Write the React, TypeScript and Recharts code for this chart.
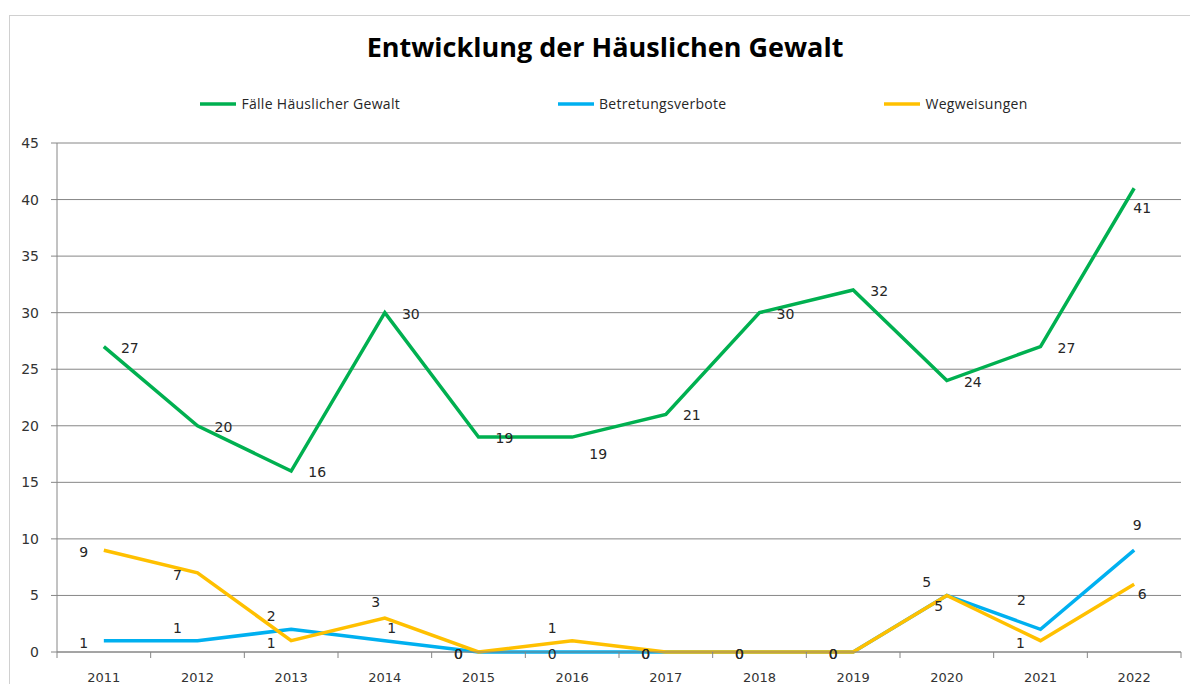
import React from 'react';
import { LineChart, Line, XAxis, YAxis, CartesianGrid, LabelList, Legend } from 'recharts';

const years = ['2011', '2012', '2013', '2014', '2015', '2016', '2017', '2018', '2019', '2020', '2021', '2022'];
const faelle = [27, 20, 16, 30, 19, 19, 21, 30, 32, 24, 27, 41];
const betretungsverbote = [1, 1, 2, 1, 0, 0, 0, 0, 0, 5, 2, 9];
const wegweisungen = [9, 7, 1, 3, 0, 1, 0, 0, 0, 5, 1, 6];
const yTicks = [0, 5, 10, 15, 20, 25, 30, 35, 40, 45];

const seriesNames = ['Fälle Häuslicher Gewalt', 'Betretungsverbote', 'Wegweisungen'];
const seriesColors = ['#00B050', '#00B0F0', '#FFC000'];

// label placement codes (where each data label sits relative to its point)
const faellePlacement = ['R', 'R', 'R', 'R', 'R', 'RB', 'R', 'R', 'R', 'R', 'R', 'B'];
const betretungPlacement = ['L', 'TL', 'TL', 'TR', 'L', 'L', 'L', 'L', 'L', 'TL', 'TLH', 'TT'];
const wegweisungPlacement = ['L', 'L', 'L', 'T', 'L', 'TL', 'L', 'L', 'L', 'BLS', 'L', 'BR'];

const placementOffsets: Record<string, [number, number]> = {
  R: [26, 1],
  RB: [26, 17],
  B: [8, 20],
  L: [-20, 2],
  TL: [-20, -13],
  T: [-9, -16],
  TR: [7, -13],
  TLH: [-19, -29],
  TT: [3, -25],
  BLS: [-8, 11],
  BR: [8, 10],
};

const data = years.map((year, i) => ({
  year,
  faelle: faelle[i],
  betretung: betretungsverbote[i],
  wegweisung: wegweisungen[i],
}));

const FONT = "'DejaVu Sans', Verdana, sans-serif";
const AXIS_GRAY = '#868686';

const makeLabel = (placements: string[]) => (props: any) => {
  const { x, y, value, index } = props;
  const off = placementOffsets[placements[index]] || [0, -15];
  return (
    <text
      x={x + off[0]}
      y={y + off[1]}
      textAnchor="middle"
      dominantBaseline="central"
      fontFamily={FONT}
      fontSize={14}
      fill="#262626"
    >
      {value}
    </text>
  );
};

const XTick = (props: any) => {
  const { x, y, payload, index, visibleTicksCount } = props;
  const w = typeof props.width === 'number' ? props.width : 1124;
  const count = visibleTicksCount || years.length;
  const band = w / count;
  return (
    <g>
      <line x1={x - band / 2} x2={x - band / 2} y1={y} y2={y + 6} stroke={AXIS_GRAY} />
      {index === count - 1 && (
        <line x1={x + band / 2} x2={x + band / 2} y1={y} y2={y + 6} stroke={AXIS_GRAY} />
      )}
      <text
        x={x}
        y={y + 25}
        textAnchor="middle"
        dominantBaseline="central"
        fontFamily={FONT}
        fontSize={13}
        fill="#333"
      >
        {payload.value}
      </text>
    </g>
  );
};

const LegendContent = () => (
  <div
    style={{
      display: 'flex',
      justifyContent: 'center',
      alignItems: 'center',
      gap: 158,
      paddingLeft: 38,
      fontFamily: "'Open Sans', sans-serif",
      fontSize: 14,
      letterSpacing: 0.3,
      color: '#262626',
    }}
  >
    {seriesNames.map((name, i) => (
      <div key={name} style={{ display: 'flex', alignItems: 'center' }}>
        <svg width={36} height={6} style={{ marginRight: 5 }}>
          <line x1={0} x2={36} y1={3} y2={3} stroke={seriesColors[i]} strokeWidth={3.5} />
        </svg>
        <span>{name}</span>
      </div>
    ))}
  </div>
);

export default function App() {
  return (
    <div style={{ position: 'absolute', left: 0, top: 0, width: 1190, height: 684, background: '#fff', overflow: 'hidden' }}>
      <div
        style={{
          position: 'absolute',
          left: 9,
          top: 15,
          width: 1200,
          height: 700,
          borderTop: '1px solid #D0D0D0',
          borderLeft: '1px solid #D0D0D0',
        }}
      />
      <div
        style={{
          position: 'absolute',
          left: 0,
          top: 27,
          width: 1210,
          textAlign: 'center',
          fontFamily: "'Open Sans', sans-serif",
          fontWeight: 700,
          fontSize: 27,
          lineHeight: '40px',
          color: '#000',
        }}
      >
        Entwicklung der Häuslichen Gewalt
      </div>
      <div style={{ position: 'absolute', left: 0, top: 0 }}>
        <LineChart width={1190} height={684} data={data} margin={{ top: 143, right: 9, bottom: 7, left: 12 }}>
          <CartesianGrid vertical={false} stroke={AXIS_GRAY} strokeWidth={1} />
          <XAxis
            dataKey="year"
            scale="band"
            interval={0}
            height={25}
            tickSize={0}
            tickMargin={0}
            tickLine={false}
            axisLine={{ stroke: AXIS_GRAY }}
            tick={<XTick />}
          />
          <YAxis
            width={45}
            domain={[0, 45]}
            ticks={yTicks}
            interval={0}
            tickSize={6}
            tickMargin={12}
            axisLine={{ stroke: AXIS_GRAY }}
            tickLine={{ stroke: AXIS_GRAY }}
            tick={{ fontFamily: FONT, fontSize: 14, fill: '#333' }}
          />
          <Legend
            verticalAlign="middle"
            align="center"
            layout="horizontal"
            content={<LegendContent />}
            wrapperStyle={{ top: 94, left: 0, width: 1190 }}
          />
          <Line
            dataKey="faelle"
            name={seriesNames[0]}
            stroke={seriesColors[0]}
            strokeWidth={3.5}
            dot={false}
            isAnimationActive={false}
          >
            <LabelList dataKey="faelle" content={makeLabel(faellePlacement)} />
          </Line>
          <Line
            dataKey="betretung"
            name={seriesNames[1]}
            stroke={seriesColors[1]}
            strokeWidth={3.5}
            dot={false}
            isAnimationActive={false}
          >
            <LabelList dataKey="betretung" content={makeLabel(betretungPlacement)} />
          </Line>
          <Line
            dataKey="wegweisung"
            name={seriesNames[2]}
            stroke={seriesColors[2]}
            strokeWidth={3.5}
            dot={false}
            isAnimationActive={false}
          >
            <LabelList dataKey="wegweisung" content={makeLabel(wegweisungPlacement)} />
          </Line>
        </LineChart>
      </div>
    </div>
  );
}
